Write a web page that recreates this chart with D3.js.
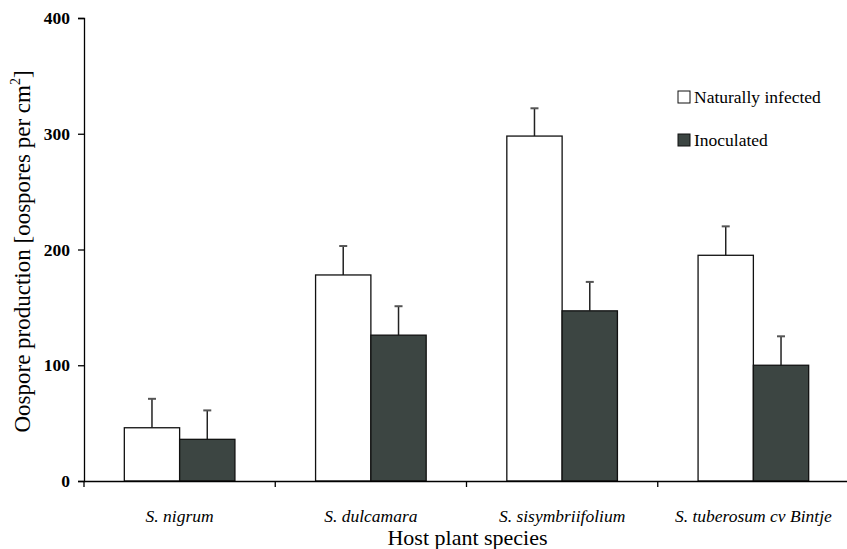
<!DOCTYPE html>
<html>
<head>
<meta charset="utf-8">
<script src="https://cdn.jsdelivr.net/npm/d3@7"></script>
<style>
  body { margin: 0; background: #fff; }
  svg { display: block; }
  svg text { font-family: "Liberation Serif", "Times New Roman", serif; }
</style>
</head>
<body>
<svg id="chart"></svg>
<script>
// data
const species = ['S. nigrum', 'S. dulcamara', 'S. sisymbriifolium', 'S. tuberosum cv Bintje'];
const seriesNames = ['Naturally infected', 'Inoculated'];
const natural = [46, 178, 298, 195];
const naturalErr = [25, 25, 24, 25];
const inoculated = [36, 126, 147, 100];
const inoculatedErr = [25, 25, 25, 25];
const yTicks = [0, 100, 200, 300, 400];

const width = 847;
const height = 549;
const margin = { top: 18, right: -2, bottom: 68, left: 84 };
const fills = ['#ffffff', '#3c4542'];
const serif = '"Liberation Serif", "Times New Roman", serif';

const svg = d3.select('#chart')
  .attr('width', width)
  .attr('height', height);

const x = d3.scaleBand()
  .domain(species)
  .range([margin.left, width - margin.right]);

const xSub = d3.scaleBand()
  .domain(seriesNames)
  .range([0, 110.6]);

const y = d3.scaleLinear()
  .domain([0, 400])
  .range([height - margin.bottom, margin.top]);

const rows = species.map((s, i) => ({
  species: s,
  values: [
    { name: seriesNames[0], value: natural[i], err: naturalErr[i] },
    { name: seriesNames[1], value: inoculated[i], err: inoculatedErr[i] }
  ]
}));

const groups = svg.append('g')
  .selectAll('g')
  .data(rows)
  .enter()
  .append('g')
  .attr('transform', d => `translate(${x(d.species) + x.bandwidth() / 2 - xSub.range()[1] / 2},0)`);

// error bars (upper half only) drawn under the bars
const err = groups.selectAll('.err')
  .data(d => d.values)
  .enter()
  .append('g');

err.append('line')
  .attr('x1', d => xSub(d.name) + xSub.bandwidth() / 2)
  .attr('x2', d => xSub(d.name) + xSub.bandwidth() / 2)
  .attr('y1', d => y(d.value))
  .attr('y2', d => y(d.value + d.err))
  .attr('stroke', '#222')
  .attr('stroke-width', 1.5);

err.append('line')
  .attr('x1', d => xSub(d.name) + xSub.bandwidth() / 2 - 4)
  .attr('x2', d => xSub(d.name) + xSub.bandwidth() / 2 + 4)
  .attr('y1', d => y(d.value + d.err))
  .attr('y2', d => y(d.value + d.err))
  .attr('stroke', '#555')
  .attr('stroke-width', 2);

groups.selectAll('rect')
  .data(d => d.values)
  .enter()
  .append('rect')
  .attr('x', d => xSub(d.name))
  .attr('width', xSub.bandwidth())
  .attr('y', d => y(d.value))
  .attr('height', d => y(0) - y(d.value))
  .attr('fill', (d, i) => fills[i])
  .attr('stroke', '#111')
  .attr('stroke-width', 1.3);

// axes
const yAxis = svg.append('g')
  .attr('transform', `translate(${margin.left},0)`)
  .call(d3.axisLeft(y).tickValues(yTicks).tickSize(6).tickPadding(8))
  .attr('font-family', serif)
  .attr('font-size', 17.5)
  .attr('font-weight', 'bold');
yAxis.select('.domain').attr('stroke', '#000').attr('stroke-width', 1.3);
yAxis.selectAll('.tick line').attr('stroke', '#000').attr('stroke-width', 1.3);
yAxis.selectAll('text').attr('fill', '#000');

const xAxis = svg.append('g')
  .attr('transform', `translate(0,${y(0)})`)
  .call(d3.axisBottom(x).tickSize(0).tickSizeOuter(0).tickPadding(29))
  .attr('font-family', serif)
  .attr('font-size', 17.5)
  .attr('font-style', 'italic');
xAxis.select('.domain').attr('stroke', '#000').attr('stroke-width', 1.3);
xAxis.selectAll('text').attr('fill', '#000');

// category boundary ticks
svg.append('g')
  .selectAll('line')
  .data(species)
  .enter()
  .append('line')
  .attr('x1', d => x(d))
  .attr('x2', d => x(d))
  .attr('y1', y(0))
  .attr('y2', y(0) + 6)
  .attr('stroke', '#000')
  .attr('stroke-width', 1.3);

// axis titles
const yTitle = svg.append('text')
  .attr('transform', `translate(30,${(y(0) + y(400)) / 2 + 2}) rotate(-90)`)
  .attr('text-anchor', 'middle')
  .style('font-size', '23px');
yTitle.append('tspan').text('Oospore production [oospores per cm');
yTitle.append('tspan').text('2').attr('dy', -10).style('font-size', '14px');
yTitle.append('tspan').text(']').attr('dy', 10);

svg.append('text')
  .attr('x', (margin.left + width) / 2 + 2)
  .attr('y', 545)
  .attr('text-anchor', 'middle')
  .style('font-size', '22px')
  .text('Host plant species');

// legend
const legend = svg.append('g')
  .selectAll('g')
  .data(seriesNames)
  .enter()
  .append('g')
  .attr('transform', (d, i) => `translate(678,${91 + i * 43})`);

legend.append('rect')
  .attr('width', 12)
  .attr('height', 12)
  .attr('fill', (d, i) => fills[i])
  .attr('stroke', '#111')
  .attr('stroke-width', 1);

legend.append('text')
  .attr('x', 16)
  .attr('y', 12)
  .style('font-size', '17.5px')
  .text(d => d);
</script>
</body>
</html>
